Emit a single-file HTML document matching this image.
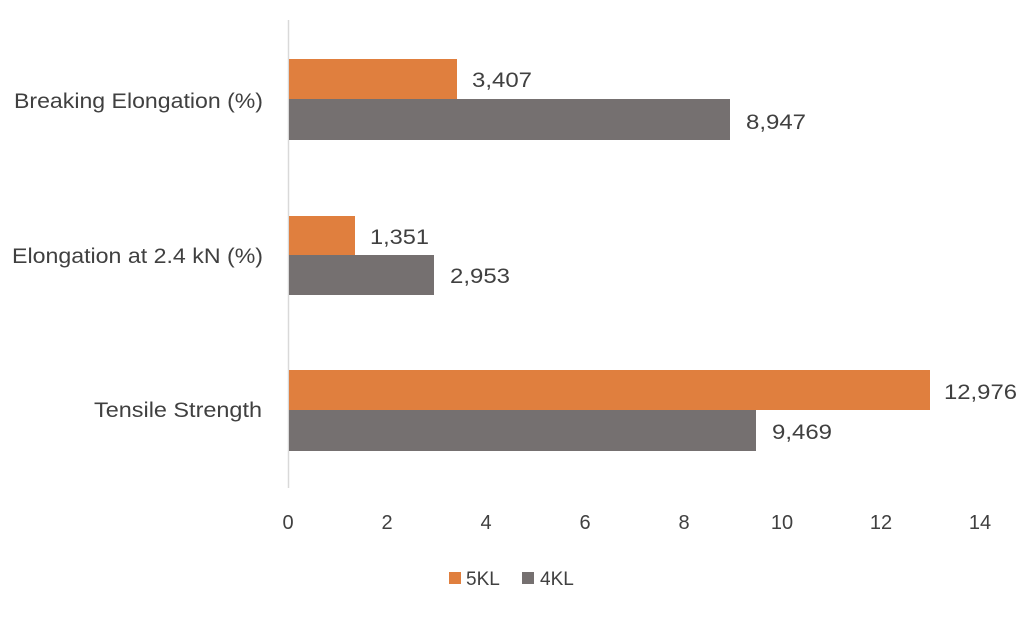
<!DOCTYPE html>
<html><head><style>
body{margin:0;background:#fff;}
svg text{font-family:"Liberation Sans",sans-serif;fill:#404040;}
</style></head><body>
<svg width="1024" height="618" xmlns="http://www.w3.org/2000/svg">
<line x1="288.5" y1="20" x2="288.5" y2="488" stroke="#d9d9d9" stroke-width="1.5"/>
<rect x="289" y="59" width="168" height="40" fill="#E07F3E"/>
<rect x="289" y="99" width="441" height="41" fill="#757070"/>
<rect x="289" y="216" width="66" height="39" fill="#E07F3E"/>
<rect x="289" y="255" width="145" height="40" fill="#757070"/>
<rect x="289" y="370" width="641" height="40" fill="#E07F3E"/>
<rect x="289" y="410" width="467" height="41" fill="#757070"/>
<g font-size="21">
<text x="472" y="87" textLength="60" lengthAdjust="spacingAndGlyphs">3,407</text>
<text x="746" y="129" textLength="60" lengthAdjust="spacingAndGlyphs">8,947</text>
<text x="370" y="244" textLength="59" lengthAdjust="spacingAndGlyphs">1,351</text>
<text x="450" y="283" textLength="60" lengthAdjust="spacingAndGlyphs">2,953</text>
<text x="944" y="399" textLength="73" lengthAdjust="spacingAndGlyphs">12,976</text>
<text x="772" y="439" textLength="60" lengthAdjust="spacingAndGlyphs">9,469</text>
</g>
<g font-size="21">
<text x="14" y="108" textLength="249" lengthAdjust="spacingAndGlyphs">Breaking Elongation (%)</text>
<text x="12" y="263" textLength="251" lengthAdjust="spacingAndGlyphs">Elongation at 2.4 kN (%)</text>
<text x="94" y="417" textLength="168" lengthAdjust="spacingAndGlyphs">Tensile Strength</text>
</g>
<g font-size="20" text-anchor="middle">
<text x="288" y="529">0</text>
<text x="387" y="529">2</text>
<text x="486" y="529">4</text>
<text x="585" y="529">6</text>
<text x="684" y="529">8</text>
<text x="782" y="529">10</text>
<text x="881" y="529">12</text>
<text x="980" y="529">14</text>
</g>
<rect x="449" y="572" width="12" height="12" fill="#E07F3E"/>
<text x="466" y="585" font-size="19">5KL</text>
<rect x="522" y="572" width="12" height="12" fill="#757070"/>
<text x="540" y="585" font-size="19">4KL</text>
</svg>
</body></html>
